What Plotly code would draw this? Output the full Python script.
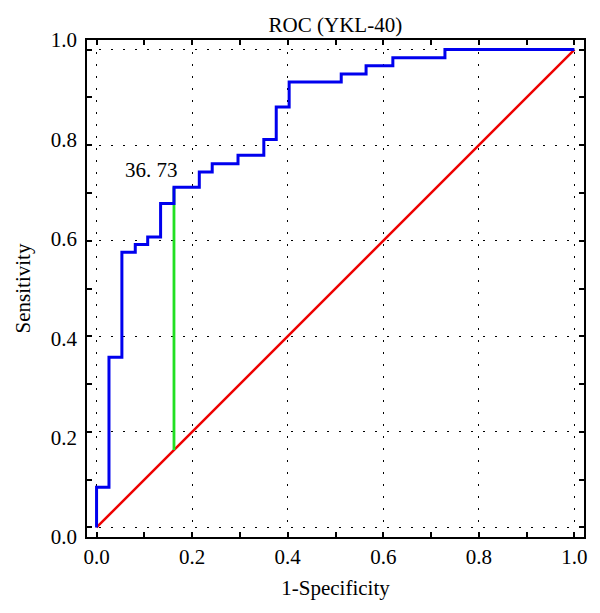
import plotly.graph_objects as go

# ROC curve points (1-Specificity, Sensitivity), step corners
fpr = [0, 0.026, 0.053, 0.081, 0.107, 0.134, 0.162, 0.215, 0.242, 0.296,
       0.350, 0.376, 0.403, 0.512, 0.564, 0.620, 0.729, 1.0]
tpr = [0, 0.084, 0.356, 0.576, 0.592, 0.608, 0.678, 0.712, 0.744, 0.761,
       0.779, 0.812, 0.880, 0.932, 0.949, 0.966, 0.983, 1.0]

diag_x = [0, 1]
diag_y = [0, 1]

cutoff_fpr = 0.162
cutoff_tpr = 0.712
cutoff_label = "36. 73"

tick_vals = [0.0, 0.2, 0.4, 0.6, 0.8, 1.0]
tick_text = ["0.0", "0.2", "0.4", "0.6", "0.8", "1.0"]

FONT = "Liberation Serif"

fig = go.Figure()
fig.add_trace(go.Scatter(x=diag_x, y=diag_y, mode="lines",
                         line=dict(color="#ee0000", width=2.5), hoverinfo="skip"))
fig.add_trace(go.Scatter(x=[cutoff_fpr, cutoff_fpr], y=[cutoff_fpr, cutoff_tpr], mode="lines",
                         line=dict(color="#22e022", width=2.8), hoverinfo="skip"))
fig.add_trace(go.Scatter(x=fpr, y=tpr, mode="lines", line_shape="vh",
                         line=dict(color="#0000ee", width=3)))
# empty trace so the label axis (y2) is drawn
fig.add_trace(go.Scatter(x=[], y=[], yaxis="y2", hoverinfo="skip"))

fig.add_annotation(x=cutoff_fpr, y=cutoff_tpr, text=cutoff_label, showarrow=False,
                   xanchor="right", yanchor="bottom", xshift=6, yshift=3,
                   font=dict(family=FONT, size=21, color="black"))

axis_common = dict(
    range=[-0.02, 1.02], showline=True, linecolor="black", linewidth=2, mirror="ticks",
    ticks="inside", ticklen=5, tickwidth=1.5, tickcolor="black",
    showgrid=True, gridcolor="black", gridwidth=1, griddash="2px,10px",
    zeroline=False, tickvals=tick_vals, automargin=False,
    minor=dict(dtick=0.1, tick0=0, ticks="inside", ticklen=5, tickwidth=1.5,
               tickcolor="black", showgrid=False),
)

fig.update_layout(
    width=600, height=613,
    margin=dict(l=87, r=16, t=40, b=76),
    plot_bgcolor="white", paper_bgcolor="white",
    showlegend=False,
    font=dict(family=FONT, size=21, color="black"),
    title=dict(text="ROC (YKL-40)", x=0.559, xanchor="center", y=1 - 25 / 613,
               yanchor="middle", font=dict(family=FONT, size=21)),
    xaxis=dict(axis_common, ticktext=tick_text,
               title=dict(text="1-Specificity", standoff=12, font=dict(size=21)),
               tickfont=dict(size=21)),
    yaxis=dict(axis_common, showticklabels=False),
    yaxis2=dict(overlaying="y", side="left", range=[0, 1], tickvals=tick_vals,
                ticktext=tick_text, showgrid=False, showline=False, ticks="",
                zeroline=False, tickfont=dict(size=21), automargin=False,
                ticklabelstandoff=9,
                title=dict(text="Sensitivity", standoff=14, font=dict(size=21))),
)

fig.write_html("out.html", config={"displayModeBar": False},
               post_script="document.body.style.margin='0';")
